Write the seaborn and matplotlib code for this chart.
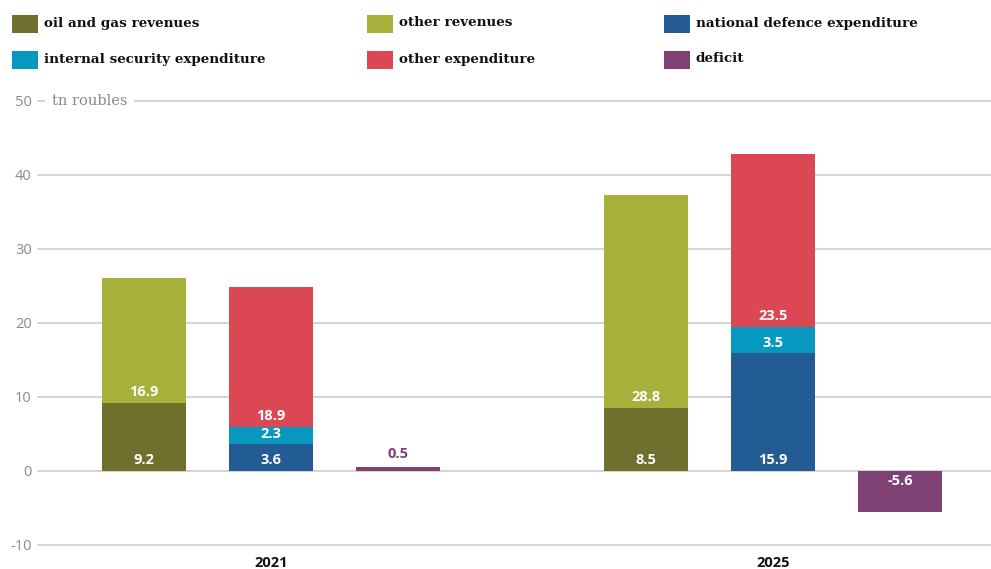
import matplotlib
matplotlib.use("Agg")
import matplotlib.pyplot as plt
from matplotlib.patches import Rectangle
import seaborn as sns
import pandas as pd

# --- data (trillion roubles) ---
years = ["2021", "2025"]
oil_gas_revenues = [9.2, 8.5]
other_revenues = [16.9, 28.8]
defence_expenditure = [3.6, 15.9]
security_expenditure = [2.3, 3.5]
other_expenditure = [18.9, 23.5]
deficit = [0.5, -5.6]

legend_labels = ["oil and gas revenues", "other revenues", "national defence expenditure",
                 "internal security expenditure", "other expenditure", "deficit"]

C_OIL = "#70702e"
C_OREV = "#a8b03c"
C_DEF = "#235b94"
C_SEC = "#0698be"
C_OEXP = "#db4854"
C_DEFICIT = "#7f4173"
legend_colors = [C_OIL, C_OREV, C_DEF, C_SEC, C_OEXP, C_DEFICIT]

columns = ["revenues", "expenditure", "balance"]

W, H = 991, 569
sns.set_theme(style="white")
plt.rcParams["font.family"] = ["Open Sans", "DejaVu Sans"]

fig = plt.figure(figsize=(W / 100, H / 100), dpi=100)
ax = fig.add_axes([38 / W, 24 / H, 953 / W, 444 / H])

# stacked columns drawn as overlapping cumulative layers (tallest first)
rev_top = [a + b for a, b in zip(oil_gas_revenues, other_revenues)]
exp_mid = [a + b for a, b in zip(defence_expenditure, security_expenditure)]
exp_top = [a + b for a, b in zip(exp_mid, other_expenditure)]

layers = [
    {"revenues": (rev_top, C_OREV), "expenditure": (exp_top, C_OEXP), "balance": (deficit, C_DEFICIT)},
    {"revenues": (oil_gas_revenues, C_OIL), "expenditure": (exp_mid, C_SEC)},
    {"expenditure": (defence_expenditure, C_DEF)},
]

SLOT = 0.253
BAR_W = 0.167
for layer in layers:
    rows = []
    pal = {}
    for col in columns:
        vals, color = layer.get(col, ([0.0] * len(years), "white"))
        pal[col] = color
        for yr, v in zip(years, vals):
            rows.append({"year": yr, "column": col, "value": v})
    df = pd.DataFrame(rows)
    sns.barplot(data=df, x="year", y="value", hue="column", hue_order=columns,
                order=years, palette=pal, width=3 * SLOT, gap=1 - BAR_W / SLOT,
                dodge=True, errorbar=None, legend=False, linewidth=0,
                saturation=1, ax=ax)

# value labels
label_kw = dict(ha="center", va="center", fontsize=10.5, fontweight="bold",
                textcoords="offset pixels", family=["Open Sans", "DejaVu Sans"])


def put(xi, ci, y, txt, dy, color="white"):
    x = xi + (ci - 1) * SLOT
    ax.annotate(txt, xy=(x, y), xytext=(0, dy), color=color, **label_kw)


for i in range(len(years)):
    put(i, 0, 0, f"{oil_gas_revenues[i]}", 11)
    put(i, 0, oil_gas_revenues[i], f"{other_revenues[i]}", 11)
    put(i, 1, 0, f"{defence_expenditure[i]}", 11)
    put(i, 1, defence_expenditure[i], f"{security_expenditure[i]}", 10)
    put(i, 1, exp_mid[i], f"{other_expenditure[i]}", 11)
    if deficit[i] >= 0:
        put(i, 2, deficit[i], f"{deficit[i]}", 13, color=C_DEFICIT)
    else:
        put(i, 2, 0, f"{deficit[i]}", -10)

# axes styling
ax.set_xlim(-(271 - 38) / 502, (991 - 271) / 502)
ax.set_ylim(-10, 50)
ax.set_yticks([-10, 0, 10, 20, 30, 40, 50])
ax.set_yticklabels(["-10", "0", "10", "20", "30", "40", "50"])
ax.grid(axis="y", color="#cccccc", linewidth=1.2)
ax.grid(axis="x", visible=False)
for gl in ax.get_ygridlines():
    gl.set_clip_on(False)
ax.set_axisbelow(True)
for s in ax.spines.values():
    s.set_visible(False)
ax.tick_params(axis="y", length=0, pad=4.5, labelsize=10.5, labelcolor="#8a8a8a")
ax.tick_params(axis="x", length=0, pad=8, labelsize=10.5)
for t in ax.get_xticklabels():
    t.set_fontweight("bold")
    t.set_color("#111111")
ax.set_xlabel("")
ax.set_ylabel("")

ax.annotate("tn roubles", xy=(0, 50), xycoords=("axes fraction", "data"),
            xytext=(14, 0), textcoords="offset pixels", ha="left", va="center",
            fontsize=10.5, color="#8a8a8a", family="DejaVu Serif",
            bbox=dict(boxstyle="square,pad=0.45", fc="white", ec="none"))

# legend: three columns, two rows
col_x = [12, 367, 664]
row_y = [24, 60]
for k, (lab, colr) in enumerate(zip(legend_labels, legend_colors)):
    r, c = divmod(k, 3)
    x0, yc = col_x[c], row_y[r]
    fig.add_artist(Rectangle((x0 / W, 1 - (yc + 9) / H), 26 / W, 18 / H,
                             transform=fig.transFigure, color=colr, lw=0))
    fig.text((x0 + 32) / W, 1 - (yc - 1) / H, lab, ha="left", va="center",
             fontsize=9.7, fontweight="bold", color="#111111", family="DejaVu Serif")

fig.savefig("out.png", dpi=100)
